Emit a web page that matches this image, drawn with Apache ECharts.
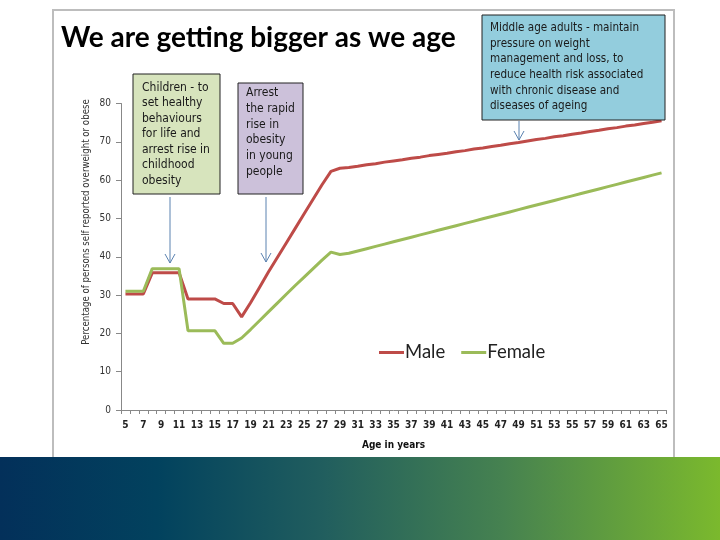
<!DOCTYPE html>
<html>
<head>
<meta charset="utf-8">
<script src="https://cdn.jsdelivr.net/npm/echarts@6/dist/echarts.min.js"></script>
<style>html,body{margin:0;padding:0;background:#fff;}#c{width:720px;height:540px;}</style>
</head>
<body>
<div id="c"></div>
<script>
var ages = [];
for (var a = 5; a <= 65; a++) ages.push(String(a));

var male = [30.3,30.3,30.3,35.8,35.8,35.8,35.8,29.0,29.0,29.0,29.0,27.8,27.8,24.3,28.0,32.0,36.0,39.8,43.6,47.4,51.2,55.0,58.8,62.3,
63.1,63.3,63.6,64.0,64.3,64.7,65.0,65.3,65.7,66.0,66.4,66.7,67.0,67.4,67.7,68.1,68.4,68.8,69.1,69.5,69.8,70.2,70.6,70.9,71.3,71.6,72.0,72.3,72.7,73.0,73.4,73.7,74.1,74.4,74.8,75.1,75.5];

var female = [31.0,31.0,31.0,36.9,36.9,36.9,36.9,20.7,20.7,20.7,20.7,17.4,17.4,18.8,21.0,23.3,25.6,27.9,30.2,32.5,34.7,36.9,39.1,41.2,
40.6,40.9,41.5,42.1,42.7,43.3,43.9,44.5,45.1,45.7,46.3,46.9,47.5,48.1,48.7,49.3,49.9,50.5,51.1,51.7,52.3,52.9,53.5,54.1,54.7,55.3,55.9,56.5,57.1,57.7,58.3,58.9,59.5,60.1,60.7,61.3,61.9];

var titleText = 'We are getting bigger as we age';
var yAxisTitle = 'Percentage of persons self reported overweight or obese';
var xAxisTitle = 'Age in years';
var boxChildren = 'Children - to\nset healthy\nbehaviours\nfor life and\narrest rise in\nchildhood\nobesity';
var boxYoung = 'Arrest\nthe rapid\nrise in\nobesity\nin young\npeople';
var boxMiddle = 'Middle age adults - maintain\npressure on weight\nmanagement and loss, to\nreduce health risk associated\nwith chronic disease and\ndiseases of ageing';

var narrow = "'Liberation Sans Narrow', 'DejaVu Sans Condensed', Lato, sans-serif";
var arrowColor = '#5b82b0';

function arrow(x, y1, y2) {
  return [
    {type:'polyline', z:5, shape:{points:[[x,y1],[x,y2]]}, style:{stroke:arrowColor, lineWidth:1, fill:null}},
    {type:'polyline', z:5, shape:{points:[[x-5,y2-9],[x,y2],[x+5,y2-9]]}, style:{stroke:arrowColor, lineWidth:1, fill:null}}
  ];
}

var chart = echarts.init(document.getElementById('c'), null, {renderer:'canvas'});
var graphics = [
  {type:'rect', z:-10, shape:{x:53, y:10, width:621, height:450}, style:{fill:'#fff', stroke:'#bdbdbd', lineWidth:2}},
  {type:'rect', z:-5, shape:{x:0, y:457, width:720, height:83}, style:{fill:new echarts.graphic.LinearGradient(0,0,1,0,[
    {offset:0, color:'#03305a'},{offset:0.22, color:'#02425e'},{offset:0.45, color:'#215e5e'},{offset:0.7, color:'#468250'},{offset:1, color:'#7bb92d'}])}},
  {type:'text', z:5, style:{x:61, y:38, text:titleText, font:'bold 28px Lato, sans-serif', fill:'#000', textVerticalAlign:'middle'}},
  {type:'rect', z:4, shape:{x:133, y:74, width:87, height:120}, style:{fill:'#d7e4bd', stroke:'#222', lineWidth:1}},
  {type:'text', z:5, style:{x:142, y:80, text:boxChildren, font:'12px '+narrow, fill:'#1a1a1a', lineHeight:15.5}},
  {type:'rect', z:4, shape:{x:238, y:83, width:65, height:111}, style:{fill:'#ccc1da', stroke:'#222', lineWidth:1}},
  {type:'text', z:5, style:{x:246, y:85, text:boxYoung, font:'12px '+narrow, fill:'#1a1a1a', lineHeight:15.8}},
  {type:'rect', z:4, shape:{x:482, y:15, width:183, height:105}, style:{fill:'#93cddd', stroke:'#222', lineWidth:1}},
  {type:'text', z:5, style:{x:490, y:20, text:boxMiddle, font:'11.6px '+narrow, fill:'#1a1a1a', lineHeight:15.7}},
  {type:'text', z:5, rotation:Math.PI/2, x:86, y:222, style:{x:0, y:0, text:yAxisTitle, font:'9.6px '+narrow, fill:'#333', textAlign:'center', textVerticalAlign:'middle'}}
].concat(arrow(170,197,263)).concat(arrow(266,197,262)).concat(arrow(519,121,140));

chart.setOption({
  animation:false,
  backgroundColor:'#fff',
  grid:{left:121, right:54, top:103.5, bottom:130, containLabel:false},
  legend:{
    left:374, top:338, itemWidth:25, itemHeight:3, itemGap:16, icon:'rect',
    textStyle:{fontSize:18.5, fontFamily:'Lato, sans-serif', color:'#222', padding:[0,0,0,-4]},
    data:['Male','Female']
  },
  xAxis:{
    type:'category', data:ages, boundaryGap:true,
    name:xAxisTitle, nameLocation:'middle', nameGap:30,
    nameTextStyle:{fontSize:10, fontWeight:'bold', color:'#111', fontFamily:narrow},
    axisLine:{lineStyle:{color:'#888', width:1}},
    axisTick:{show:true, interval:0, length:4, lineStyle:{color:'#888'}},
    axisLabel:{interval:1, margin:10, fontSize:10, fontWeight:'bold', color:'#222', fontFamily:narrow},
    splitLine:{show:false}
  },
  yAxis:{
    type:'value', min:0, max:80, interval:10,
    axisLine:{show:true, lineStyle:{color:'#888', width:1}},
    axisTick:{show:true, length:5, lineStyle:{color:'#888'}},
    axisLabel:{margin:10, fontSize:10, color:'#333', fontFamily:narrow},
    splitLine:{show:false}
  },
  series:[
    {name:'Male', type:'line', data:male, showSymbol:false, symbol:'none', lineStyle:{width:3, color:'#be4b48'}, itemStyle:{color:'#be4b48'}},
    {name:'Female', type:'line', data:female, showSymbol:false, symbol:'none', lineStyle:{width:3, color:'#9bbb59'}, itemStyle:{color:'#9bbb59'}}
  ],
  graphic:graphics
});
</script>
</body>
</html>
